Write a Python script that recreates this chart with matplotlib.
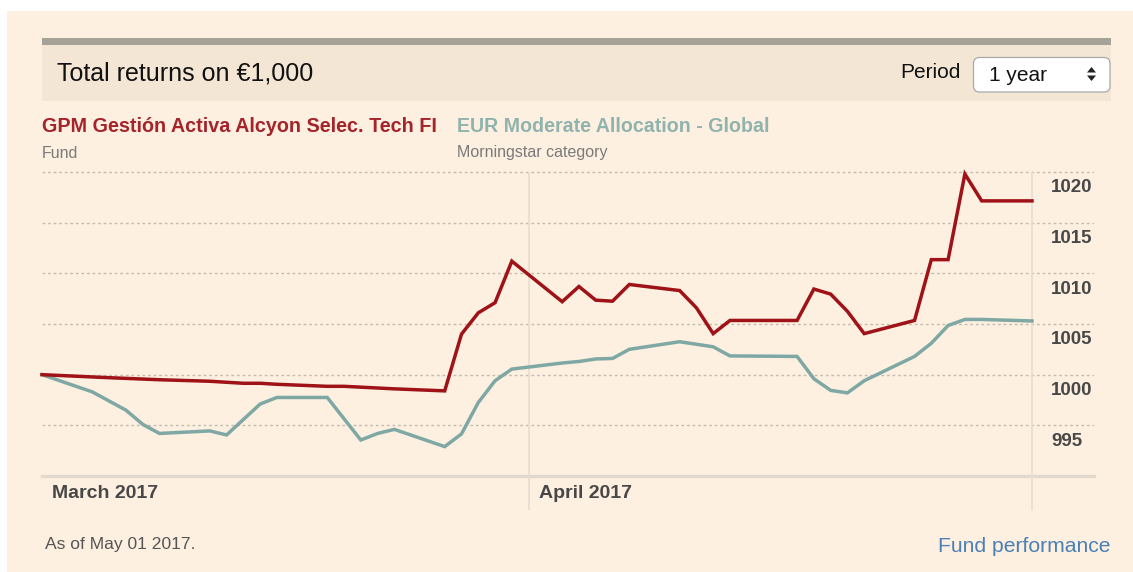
import matplotlib
matplotlib.use("Agg")
import matplotlib.pyplot as plt
import matplotlib.dates as mdates
from matplotlib.patches import Rectangle, FancyBboxPatch, Polygon
import datetime as dt

plt.rcParams['font.family'] = ['Liberation Sans', 'DejaVu Sans']

# ---------------- data ----------------
fund_name = "GPM Gestión Activa Alcyon Selec. Tech FI"
cat_name = "EUR Moderate Allocation - Global"

fund_dates = ["2017-03-03", "2017-03-07", "2017-03-10", "2017-03-13", "2017-03-15",
              "2017-03-16", "2017-03-17", "2017-03-20", "2017-03-21", "2017-03-24",
              "2017-03-27", "2017-03-28", "2017-03-29", "2017-03-30", "2017-03-31",
              "2017-04-03", "2017-04-04", "2017-04-05", "2017-04-06", "2017-04-07",
              "2017-04-10", "2017-04-11", "2017-04-12", "2017-04-13", "2017-04-17",
              "2017-04-18", "2017-04-19", "2017-04-20", "2017-04-21", "2017-04-24",
              "2017-04-25", "2017-04-26", "2017-04-27", "2017-04-28", "2017-05-01"]
fund_values = [1000.0, 999.7, 999.5, 999.35, 999.15,
               999.15, 999.05, 998.85, 998.85, 998.6,
               998.4, 1004.0, 1006.1, 1007.1, 1011.2,
               1007.2, 1008.7, 1007.35, 1007.25, 1008.9,
               1008.3, 1006.6, 1004.05, 1005.35, 1005.35,
               1008.45, 1007.95, 1006.25, 1004.05, 1005.35,
               1011.35, 1011.35, 1019.8, 1017.15, 1017.15]

cat_dates = ["2017-03-03", "2017-03-06", "2017-03-08", "2017-03-09", "2017-03-10",
             "2017-03-13", "2017-03-14", "2017-03-16", "2017-03-17", "2017-03-20",
             "2017-03-22", "2017-03-23", "2017-03-24", "2017-03-27", "2017-03-28",
             "2017-03-29", "2017-03-30", "2017-03-31", "2017-04-03", "2017-04-04",
             "2017-04-05", "2017-04-06", "2017-04-07", "2017-04-10", "2017-04-11",
             "2017-04-12", "2017-04-13", "2017-04-17", "2017-04-18", "2017-04-19",
             "2017-04-20", "2017-04-21", "2017-04-24", "2017-04-25", "2017-04-26",
             "2017-04-27", "2017-04-28", "2017-05-01"]
cat_values = [1000.0, 998.3, 996.5, 995.1, 994.2,
              994.45, 994.05, 997.1, 997.75, 997.75,
              993.55, 994.2, 994.6, 992.9, 994.15,
              997.25, 999.4, 1000.55, 1001.15, 1001.3,
              1001.55, 1001.6, 1002.5, 1003.25, 1003.0,
              1002.75, 1001.85, 1001.8, 999.6, 998.45,
              998.2, 999.4, 1001.8, 1003.1, 1004.85,
              1005.45, 1005.45, 1005.3]

y_ticks = [995, 1000, 1005, 1010, 1015, 1020]
month_ticks = ["2017-03-01", "2017-04-01", "2017-05-01"]
month_labels = ["March 2017", "April 2017", ""]

title = "Total returns on €1,000"
period_label = "Period"
period_value = "1 year"
footnote = "As of May 01 2017."
link_text = "Fund performance"

# ---------------- colours ----------------
BG = "#fdf0e0"
BAND = "#f4e6d5"
BAR = "#a6a297"
RED = "#9e1218"
TEAL = "#7fa8a5"
RED_TXT = "#a5232a"
TEAL_TXT = "#91b3ae"
GRID = "#c4bcb2"
AXLINE = "#e2d9cc"
VLINE = "#e6ddd1"
TICK_TXT = "#484848"

W, H = 1133, 572
fig = plt.figure(figsize=(W / 100, H / 100), dpi=100)
fig.patch.set_facecolor("white")

# overlay in pixel coordinates
bg = fig.add_axes([0, 0, 1, 1], zorder=0)
bg.set_xlim(0, W)
bg.set_ylim(H, 0)
bg.axis("off")

bg.add_patch(Rectangle((7, 11), W - 7, H - 11, facecolor=BG, edgecolor="none"))
bg.add_patch(Rectangle((42, 44), 1111 - 42, 101 - 44, facecolor=BAND, edgecolor="none"))
bg.add_patch(Rectangle((42, 37.5), 1111 - 42, 7, facecolor=BAR, edgecolor="none"))

bg.text(57, 74, title, fontsize=18, color="#111111", va="center", ha="left")
bg.text(961, 73, period_label, fontsize=15, color="#111111", va="center", ha="right")
bg.add_patch(FancyBboxPatch((973.5, 57.5), 1110 - 973.5, 92 - 57.5,
                            boxstyle="round,pad=0,rounding_size=6",
                            facecolor="white", edgecolor="#a9a9a9", lw=0.9))
bg.text(989, 75.5, period_value, fontsize=15, color="#111111", va="center", ha="left")
bg.add_patch(Polygon([(1087, 72.5), (1096, 72.5), (1091.5, 67)], closed=True,
                     facecolor="#222222", edgecolor="none"))
bg.add_patch(Polygon([(1087, 75.5), (1096, 75.5), (1091.5, 81)], closed=True,
                     facecolor="#222222", edgecolor="none"))

bg.text(42, 127, fund_name, fontsize=14.2, fontweight="bold", color=RED_TXT,
        va="center", ha="left")
bg.text(42, 153, "Fund", fontsize=11.5, color="#7a7a7a", va="center", ha="left")
bg.text(457, 127, cat_name, fontsize=14.1, fontweight="bold", color=TEAL_TXT,
        va="center", ha="left")
bg.text(457, 153, "Morningstar category", fontsize=11.5, color="#7a7a7a",
        va="center", ha="left")

bg.text(45, 544, footnote, fontsize=12.6, color="#555555", va="center", ha="left")
bg.text(1111, 546.5, link_text, fontsize=15.2, color="#4a80b5", va="center", ha="right")

# ---------------- main chart ----------------
ax_l, ax_r, ax_t, ax_b = 42, 1094, 165, 476
ax = fig.add_axes([ax_l / W, 1 - ax_b / H, (ax_r - ax_l) / W, (ax_b - ax_t) / H], zorder=1)
ax.set_facecolor("none")

fd = [mdates.date2num(dt.datetime.strptime(d, "%Y-%m-%d")) for d in fund_dates]
cd = [mdates.date2num(dt.datetime.strptime(d, "%Y-%m-%d")) for d in cat_dates]
md = [mdates.date2num(dt.datetime.strptime(d, "%Y-%m-%d")) for d in month_ticks]

x0 = min(fd[0], cd[0])
x1 = max(fd[-1], cd[-1])
ppd = (1032 - 42) / (x1 - x0)
xr = x1 + (ax_r - 1032) / ppd
ax.set_xlim(x0, xr)
ppu = 10.14
y_lo = 990
y_hi = 1020 + (172 - ax_t) / ppu
ax.set_ylim(y_lo, y_hi)

for s in ax.spines.values():
    s.set_visible(False)
ax.set_xticks([])
ax.set_yticks([])

ax.hlines(y_ticks, x0, xr, colors=GRID, lw=1.0, linestyles=(0, (2.0, 2.0)), zorder=1)
ax.axhline(y_lo, color=AXLINE, lw=2.4, zorder=1, clip_on=False)

y_ext = y_lo - (510 - ax_b) / ppu
for m in md[1:]:
    if m >= x0:
        ax.vlines(m, y_ext, y_ticks[-1], colors=VLINE, lw=1.2, zorder=1, clip_on=False)

for v in y_ticks:
    ax.annotate(str(v), xy=(xr, v), xycoords="data", xytext=(-43, -16),
                textcoords="offset pixels", fontsize=13.5, fontweight="bold",
                color=TICK_TXT, va="center", ha="left", annotation_clip=False)

for m, lab in zip(md, month_labels):
    if not lab:
        continue
    xpos = max(m, x0)
    ax.annotate(lab, xy=(xpos, y_lo), xycoords="data", xytext=(10, -17),
                textcoords="offset pixels", fontsize=14, fontweight="bold",
                color=TICK_TXT, va="center", ha="left", annotation_clip=False)

ax.plot(cd, cat_values, color=TEAL, lw=2.5, solid_joinstyle="miter", zorder=3, clip_on=False)
ax.plot(fd, fund_values, color=RED, lw=2.5, solid_joinstyle="miter", zorder=4, clip_on=False)

fig.savefig("out.png", dpi=100, facecolor=fig.get_facecolor())
